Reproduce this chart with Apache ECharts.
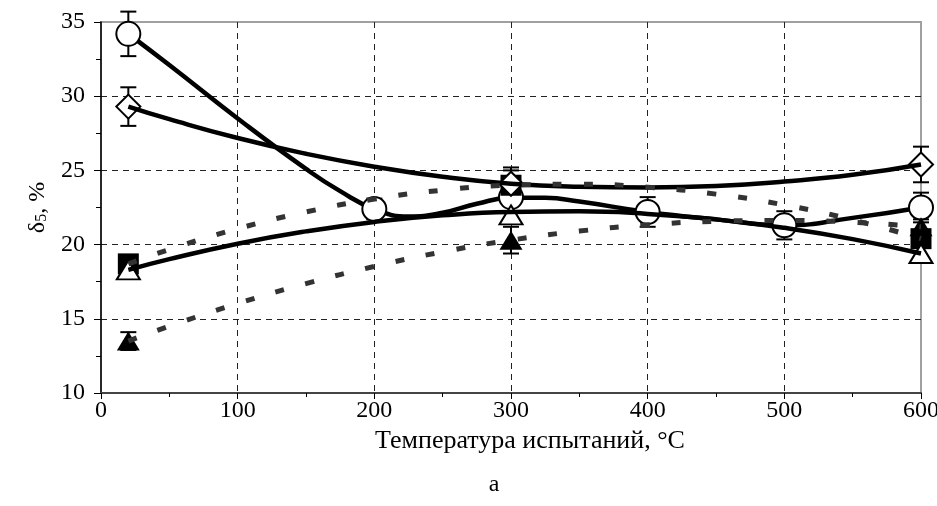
<html>
<head>
    <meta charset="utf-8">
    <script src="https://cdn.jsdelivr.net/npm/echarts@6/dist/echarts.min.js"></script>
</head>
<body style="margin:0">
<div id="main" style="width: 937px;height:506px;"></div>
<script>
    // точки измерений
    var circleT = [20, 200, 300, 400, 500, 600];
    var circleV = [34.2, 22.4, 23.2, 22.2, 21.3, 22.5];
    var circleErr = [1.5, 0.7, 1.0, 1.0, 0.95, 1.0];

    var pointT = [20, 300, 600];
    var diamondV = [29.3, 24.1, 25.4];
    var diamondErr = [1.3, 0.9, 1.2];
    var squareV = [18.7, 24.0, 20.4];
    var squareErr = [0.4, 1.2, 0.5];
    var openTriV = [18.3, 22.0, 19.4];
    var openTriErr = [0.4, 0.6, 0.6];
    var fillTriV = [13.5, 20.3, 21.2];
    var fillTriErr = [0.6, 0.9, 0.5];

    // сглаженная линия по кружкам
    var circleLineT = [20, 50, 100, 150, 175, 200, 225, 250, 275, 300, 325, 350, 400, 450, 500, 550, 600];
    var circleLineV = [34.2, 32.1, 28.5, 25.1, 23.6, 22.4, 21.9, 22.15, 22.75, 23.15, 23.15, 22.9, 22.2, 21.7, 21.3, 21.8, 22.5];

    // линии тренда
    var fitT = [20, 50, 100, 150, 200, 250, 300, 350, 400, 450, 500, 550, 600];
    var diamondFit = [29.3, 28.45, 27.18, 26.12, 25.25, 24.57, 24.1, 23.9, 23.85, 23.95, 24.25, 24.7, 25.4];
    var openTriFit = [18.3, 19.02, 20.06, 20.89, 21.53, 21.97, 22.2, 22.24, 22.07, 21.7, 21.13, 20.37, 19.4];
    var squareFit = [18.7, 19.67, 21.07, 22.2, 23.07, 23.67, 24.0, 24.07, 23.87, 23.4, 22.67, 21.67, 20.4];
    var fillTriFit = [13.5, 14.5, 16.03, 17.37, 18.53, 19.51, 20.3, 20.91, 21.33, 21.57, 21.63, 21.51, 21.2];

    function zip(xs, ys) {
        return xs.map(function (x, i) { return [x, ys[i]]; });
    }
    function zip3(xs, ys, es) {
        return xs.map(function (x, i) { return [x, ys[i], es[i]]; });
    }

    var errData = [].concat(
        zip3(circleT, circleV, circleErr),
        zip3(pointT, diamondV, diamondErr),
        zip3(pointT, squareV, squareErr),
        zip3(pointT, openTriV, openTriErr),
        zip3(pointT, fillTriV, fillTriErr)
    );

    var font = 'Liberation Serif';
    var myChart = echarts.init(document.getElementById('main'));

    function marker(data, symbol, size, filled, z) {
        return {
            type: 'scatter',
            z: z,
            data: data,
            symbol: symbol,
            symbolSize: size,
            itemStyle: filled
                ? {color: '#000', opacity: 1}
                : {color: '#fff', borderColor: '#000', borderWidth: 2, opacity: 1}
        };
    }

    var option = {
        animation: false,
        graphic: [{
            type: 'text',
            x: 494, y: 485,
            style: {
                text: 'а', textAlign: 'center', textVerticalAlign: 'middle',
                font: '24px "Liberation Serif"', fill: '#000'
            }
        }],
        grid: {
            left: 101, right: 16, top: 22, bottom: 113,
            outerBoundsMode: 'none',
            containLabel: false,
            show: true, borderColor: '#a0a0a0', borderWidth: 2
        },
        xAxis: {
            type: 'value', min: 0, max: 600, interval: 100,
            name: 'Температура испытаний, °C',
            nameLocation: 'middle', nameGap: 33,
            nameTextStyle: {fontFamily: font, fontSize: 26, color: '#000', padding: [0, 0, 0, 38]},
            axisLine: {lineStyle: {color: '#444', width: 2}},
            axisTick: {length: 6, lineStyle: {color: '#000'}},
            minorTick: {show: true, splitNumber: 2, length: 4, lineStyle: {color: '#000'}},
            axisLabel: {fontFamily: font, fontSize: 24, color: '#000', margin: 6},
            splitLine: {
                show: true, showMinLine: false, showMaxLine: false,
                lineStyle: {color: '#222', type: [6, 5], width: 1}
            }
        },
        yAxis: {
            type: 'value', min: 10, max: 35, interval: 5,
            name: '{d|δ}{s|5}{d|, %}',
            nameLocation: 'middle', nameGap: 50, nameRotate: 90,
            nameTextStyle: {
                rich: {
                    d: {fontFamily: font, fontSize: 24, color: '#000'},
                    s: {fontFamily: font, fontSize: 16, color: '#000', padding: [9, 0, 0, 0]}
                }
            },
            axisLine: {show: true, lineStyle: {color: '#000', width: 1.5}},
            axisTick: {show: true, length: 7, lineStyle: {color: '#000'}},
            minorTick: {show: true, splitNumber: 2, length: 5, lineStyle: {color: '#000'}},
            axisLabel: {fontFamily: font, fontSize: 24, color: '#000', margin: 16},
            splitLine: {
                show: true, showMinLine: false, showMaxLine: false,
                lineStyle: {color: '#222', type: [6, 5], width: 1}
            }
        },
        series: [
            {
                type: 'custom',
                z: 2,
                data: errData,
                encode: {x: 0, y: 1},
                renderItem: function (params, api) {
                    var x = api.value(0), y = api.value(1), e = api.value(2);
                    var top = api.coord([x, y + e]);
                    var bot = api.coord([x, y - e]);
                    var hw = 8;
                    var st = {stroke: '#000', lineWidth: 2};
                    return {
                        type: 'group',
                        children: [
                            {type: 'line', shape: {x1: top[0], y1: top[1], x2: bot[0], y2: bot[1]}, style: st},
                            {type: 'line', shape: {x1: top[0] - hw, y1: top[1], x2: top[0] + hw, y2: top[1]}, style: st},
                            {type: 'line', shape: {x1: bot[0] - hw, y1: bot[1], x2: bot[0] + hw, y2: bot[1]}, style: st}
                        ]
                    };
                }
            },
            {
                type: 'line', z: 3, smooth: true, symbol: 'none',
                data: zip(circleLineT, circleLineV),
                lineStyle: {color: '#000', width: 4.5}
            },
            marker(zip(circleT, circleV), 'circle', 24, false, 4),
            marker(zip(pointT, squareV), 'rect', 21, true, 4),
            marker(zip(pointT, diamondV), 'diamond', [24, 24], false, 5),
            marker(zip(pointT, openTriV), 'triangle', [23, 19], false, 5),
            marker(zip(pointT, fillTriV), 'triangle', [23, 19], true, 5),
            {
                type: 'line', z: 6, smooth: true, symbol: 'none',
                data: zip(fitT, diamondFit),
                lineStyle: {color: '#000', width: 4.5}
            },
            {
                type: 'line', z: 6, smooth: true, symbol: 'none',
                data: zip(fitT, openTriFit),
                lineStyle: {color: '#000', width: 4.5}
            },
            {
                type: 'line', z: 6, smooth: true, symbol: 'none',
                data: zip(fitT, squareFit),
                lineStyle: {color: '#333', width: 5, type: [9, 22]}
            },
            {
                type: 'line', z: 6, smooth: true, symbol: 'none',
                data: zip(fitT, fillTriFit),
                lineStyle: {color: '#333', width: 5, type: [9, 22]}
            }
        ]
    };

    myChart.setOption(option);
</script>
</body>
</html>
